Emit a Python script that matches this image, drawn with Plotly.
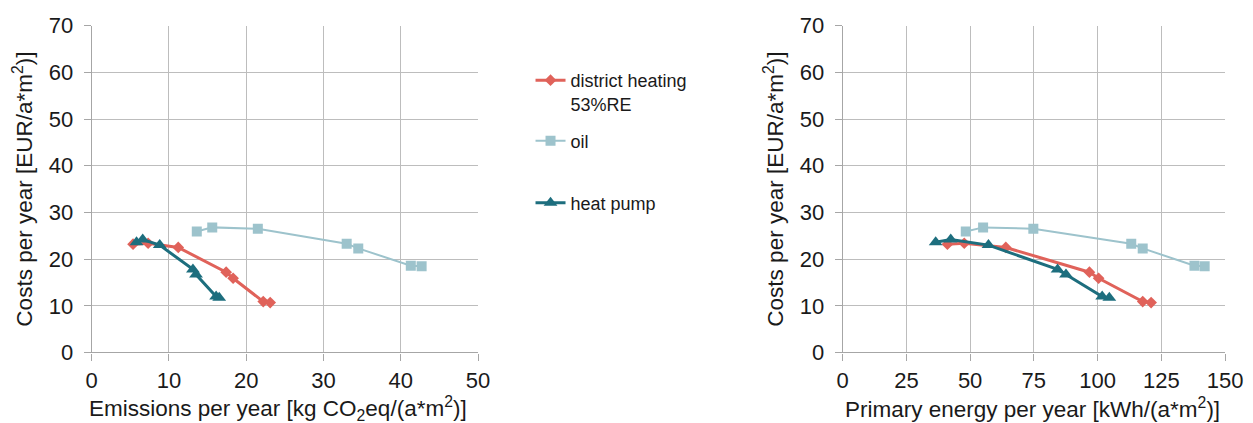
import plotly.graph_objects as go

# Data
dh_em = [5.35, 7.3, 11.2, 17.4, 18.3, 22.2, 23.1]
dh_pe = [41.1, 47.7, 64.0, 96.8, 100.4, 117.7, 121.0]
dh_cost = [23.2, 23.4, 22.5, 17.2, 15.9, 10.9, 10.7]

oil_em = [13.6, 15.6, 21.5, 33.0, 34.5, 41.3, 42.7]
oil_pe = [48.3, 55.1, 74.8, 113.2, 117.7, 138.0, 142.0]
oil_cost = [25.9, 26.8, 26.5, 23.3, 22.3, 18.6, 18.5]

hp_em = [5.8, 6.6, 8.8, 13.1, 13.5, 16.1, 16.5]
hp_pe = [36.5, 42.4, 57.2, 84.3, 87.6, 101.8, 104.6]
hp_cost = [23.6, 24.2, 23.0, 17.8, 16.7, 12.0, 11.7]

names = ["district heating<br>53%RE", "oil", "heat pump"]
colors = ["#E0625A", "#9DC3CC", "#1D6E7E"]
symbols = ["diamond", "square", "triangle-up"]
msizes = [9, 10, 12]
lwidths = [3, 2, 3]
legends = ["legend", "legend2", "legend3"]

x_title_left = "Emissions per year [kg CO<sub>2</sub>eq/(a*m<sup>2</sup>)]"
x_title_right = "Primary energy per year [kWh/(a*m<sup>2</sup>)]"
y_title = "Costs per year [EUR/a*m<sup>2</sup>)]"

fig = go.Figure()
series = [(dh_em, dh_pe, dh_cost), (oil_em, oil_pe, oil_cost), (hp_em, hp_pe, hp_cost)]
for i, (em, pe, cost) in enumerate(series):
    fig.add_trace(go.Scatter(x=em, y=cost, mode="lines+markers", name=names[i],
                             line=dict(color=colors[i], width=lwidths[i]),
                             marker=dict(symbol=symbols[i], size=msizes[i], color=colors[i]),
                             legend=legends[i], xaxis="x", yaxis="y"))
    fig.add_trace(go.Scatter(x=pe, y=cost, mode="lines+markers", name=names[i],
                             line=dict(color=colors[i], width=lwidths[i]),
                             marker=dict(symbol=symbols[i], size=msizes[i], color=colors[i]),
                             showlegend=False, xaxis="x2", yaxis="y2"))

FAM = "Liberation Sans, Arial, sans-serif"
font = dict(family=FAM, size=22, color="#1a1a1a")
tfont = dict(family=FAM, size=22.5, color="#1a1a1a")
axcommon = dict(showgrid=True, gridcolor="#BDBDBD", gridwidth=1.2, showline=True,
                linecolor="#A6A6A6", linewidth=1.2, ticks="outside", ticklen=7,
                tickcolor="#A6A6A6", tickfont=font, zeroline=False, automargin=False)

legfont = dict(family=FAM, size=18, color="#1a1a1a")
def leg(y, anchor):
    return dict(x=0.4234, y=y, xanchor="left", yanchor=anchor, font=legfont,
                valign="top", bgcolor="rgba(0,0,0,0)")

fig.update_layout(
    width=1253, height=423,
    margin=dict(l=0, r=0, t=0, b=0),
    plot_bgcolor="white", paper_bgcolor="white",
    font=font,
    xaxis=dict(domain=[0.0732, 0.3815], range=[0, 50], dtick=10, anchor="y",
               ticklabelstandoff=1, **axcommon),
    yaxis=dict(domain=[0.1667, 0.9392], range=[0, 70], dtick=10, anchor="x",
               ticklabelstandoff=6,
               title=dict(text=y_title, font=tfont, standoff=9),
               **axcommon),
    xaxis2=dict(domain=[0.6725, 0.9777], range=[0, 150], dtick=25, anchor="y2",
                ticklabelstandoff=1, **axcommon),
    yaxis2=dict(domain=[0.1667, 0.9392], range=[0, 70], dtick=10, anchor="x2",
                ticklabelstandoff=6,
                title=dict(text=y_title, font=tfont, standoff=9),
                **axcommon),
    legend=leg(1 - 62 / 423, "top"),
    legend2=leg(1 - 141 / 423, "middle"),
    legend3=leg(1 - 203 / 423, "middle"),
    showlegend=True,
    annotations=[
        dict(text=x_title_left, x=278 / 1253, y=1 - 408 / 423, xref="paper", yref="paper",
             xanchor="center", yanchor="middle", showarrow=False, font=tfont),
        dict(text=x_title_right, x=1032 / 1253, y=1 - 408 / 423, xref="paper", yref="paper",
             xanchor="center", yanchor="middle", showarrow=False, font=tfont),
    ],
)

fig.write_html("out.html", config={"displayModeBar": False},
               post_script="document.body.style.margin='0';document.body.style.overflow='hidden';")
